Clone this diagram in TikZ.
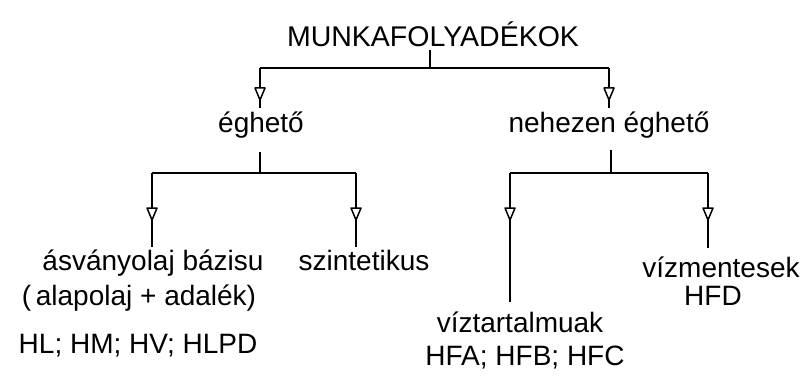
\documentclass[tikz,border=0pt]{standalone}
\usepackage{fontspec}
\setmainfont{Liberation Sans}
\begin{document}
\begin{tikzpicture}[x=1pt,y=-1pt,line width=1.7pt,line join=round,
  lbl/.style={font=\fontsize{28}{31}\selectfont,inner sep=0pt,anchor=base},
  ttl/.style={font=\fontsize{28.5}{32}\selectfont,inner sep=0pt,anchor=base},
  tip/.style={draw,fill=white,line width=1.5pt}]
\useasboundingbox (0,0) rectangle (811,377);
% texts
\node[ttl] (title) at (433,47) {MUNKAFOLYADÉKOK};
\node[lbl] (eg) at (261,132) {éghető};
\node[lbl] (neg) at (609,132) {nehezen éghető};
\node[lbl] (asv) at (153,270) {ásványolaj bázisu};
\node[lbl] (alap) at (139,305) {(\,alapolaj + adalék)};
\node[lbl] (hl) at (138,353) {HL; HM; HV; HLPD};
\node[lbl] (szin) at (364,270) {szintetikus};
\node[lbl] (vizt) at (520,332) {víztartalmuak};
\node[lbl] (hfa) at (525,365) {HFA; HFB; HFC};
\node[lbl] (vizm) at (721,277) {vízmentesek};
\node[lbl] (hfd) at (713,305) {HFD};
% level 1
\coordinate (t0) at (430,50);
\coordinate (t1) at (430,68);
\coordinate (tl) at (260,68);
\coordinate (tr) at (609,68);
\coordinate (tla) at (260,100);
\coordinate (tra) at (609,100);
\coordinate (tle) at (260,108);
\coordinate (tre) at (609,108);
\draw (t0) -- (t1);
\draw (tl) -- (tr);
\draw (tl) -- (tle);
\draw (tr) -- (tre);
\path[tip] (tla) -- ++(-5,-12) -- ++(10,0) -- cycle;
\path[tip] (tra) -- ++(-5,-12) -- ++(10,0) -- cycle;
% left subtree
\coordinate (l0) at (260,152);
\coordinate (l1) at (260,173);
\coordinate (ll) at (152,173);
\coordinate (lr) at (356,173);
\coordinate (lla) at (152,220);
\coordinate (lra) at (356,220);
\coordinate (lle) at (152,247);
\coordinate (lre) at (356,247);
\draw (l0) -- (l1);
\draw (ll) -- (lr);
\draw (ll) -- (lle);
\draw (lr) -- (lre);
\path[tip] (lla) -- ++(-5,-12) -- ++(10,0) -- cycle;
\path[tip] (lra) -- ++(-5,-12) -- ++(10,0) -- cycle;
% right subtree
\coordinate (r0) at (611,150);
\coordinate (r1) at (611,173);
\coordinate (rl) at (510,173);
\coordinate (rr) at (708,173);
\coordinate (rla) at (510,220);
\coordinate (rra) at (708,220);
\coordinate (rle) at (510,302);
\coordinate (rre) at (708,248);
\draw (r0) -- (r1);
\draw (rl) -- (rr);
\draw (rl) -- (rle);
\draw (rr) -- (rre);
\path[tip] (rla) -- ++(-5,-12) -- ++(10,0) -- cycle;
\path[tip] (rra) -- ++(-5,-12) -- ++(10,0) -- cycle;
\end{tikzpicture}
\end{document}
